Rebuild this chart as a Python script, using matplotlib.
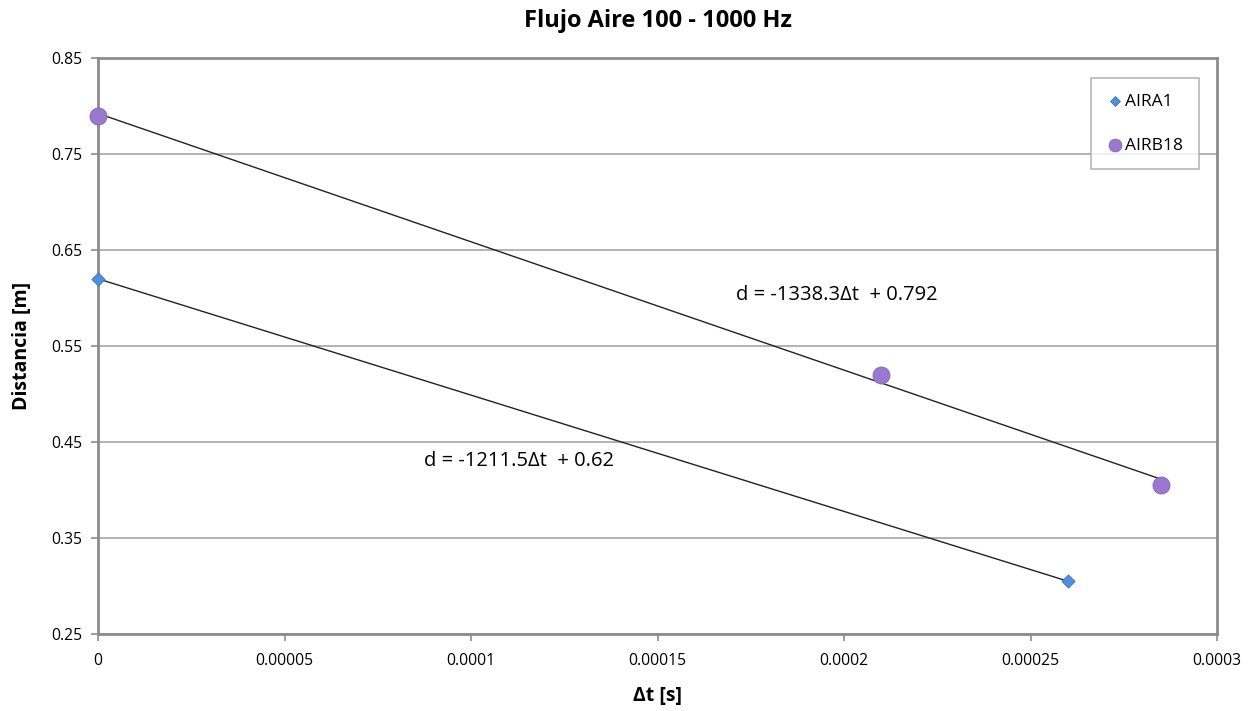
import matplotlib
matplotlib.use("Agg")
import matplotlib.pyplot as plt
import numpy as np

plt.rcParams["font.family"] = ["Open Sans", "DejaVu Sans"]

# AIRA1 series
aira1_dt = [0.0, 0.00026]
aira1_dist = [0.62, 0.305]

# AIRB18 series
airb18_dt = [0.0, 0.00021, 0.000285]
airb18_dist = [0.79, 0.52, 0.405]

x_ticks = [0, 0.00005, 0.0001, 0.00015, 0.0002, 0.00025, 0.0003]
x_tick_labels = ["0", "0.00005", "0.0001", "0.00015", "0.0002", "0.00025", "0.0003"]
y_ticks = [0.25, 0.35, 0.45, 0.55, 0.65, 0.75, 0.85]
y_tick_labels = ["0.25", "0.35", "0.45", "0.55", "0.65", "0.75", "0.85"]

fig = plt.figure(figsize=(12.51, 7.11), dpi=100)
ax = fig.add_axes([98 / 1251, 1 - 634 / 711, (1217 - 98) / 1251, (634 - 58) / 711])

grid_color = "#a6a6a6"
ax.set_xlim(0, 0.0003)
ax.set_ylim(0.25, 0.85)
ax.set_yticks(y_ticks)
ax.set_yticklabels(y_tick_labels)
ax.set_xticks(x_ticks)
ax.set_xticklabels(x_tick_labels)
ax.yaxis.grid(True, color=grid_color, linewidth=1.2)
ax.set_axisbelow(True)

for spine in ax.spines.values():
    spine.set_color("#8c8c8c")
    spine.set_linewidth(2)

ax.tick_params(axis="both", direction="out", length=5, color="#8c8c8c",
               labelsize=11.3, width=1.2)
ax.tick_params(axis="x", pad=9)
ax.tick_params(axis="y", pad=6)

# linear trendlines
for dt, dist in [(aira1_dt, aira1_dist), (airb18_dt, airb18_dist)]:
    slope, intercept = np.polyfit(dt, dist, 1)
    xs = np.array([min(dt), max(dt)])
    ax.plot(xs, slope * xs + intercept, color="#222222", linewidth=1, zorder=2)

ax.scatter(aira1_dt, aira1_dist, marker="D", s=45, color="#4f8fdc",
           edgecolor="#3a72c0", linewidth=0.6, zorder=3, label="AIRA1", clip_on=False)
ax.scatter(airb18_dt, airb18_dist, marker="o", s=150, color="#9a78cf",
           edgecolor="#8264b8", linewidth=0.6, zorder=3, label="AIRB18", clip_on=False)

ax.text(0.000171, 0.603, "d = -1338.3\u0394t  + 0.792", fontsize=14.5,
        va="center", ha="left")
ax.text(0.0000875, 0.43, "d = -1211.5\u0394t  + 0.62", fontsize=14.5,
        va="center", ha="left")

leg = ax.legend(loc="upper right", bbox_to_anchor=(0.984, 0.965), frameon=True,
                fancybox=False, fontsize=12.5, handletextpad=0.1,
                labelspacing=1.6, borderpad=0.9, handlelength=1.0,
                markerscale=0.75, borderaxespad=0)
leg.get_frame().set_edgecolor("#a6a6a6")
leg.get_frame().set_linewidth(1.2)

ax.set_title("Flujo Aire 100 - 1000 Hz", fontsize=17, fontweight="bold", pad=22)
ax.set_xlabel("\u0394t [s]", fontsize=14, fontweight="bold", labelpad=12)
ax.set_ylabel("Distancia [m]", fontsize=14, fontweight="bold", labelpad=14)

fig.savefig("out.png", dpi=100)
